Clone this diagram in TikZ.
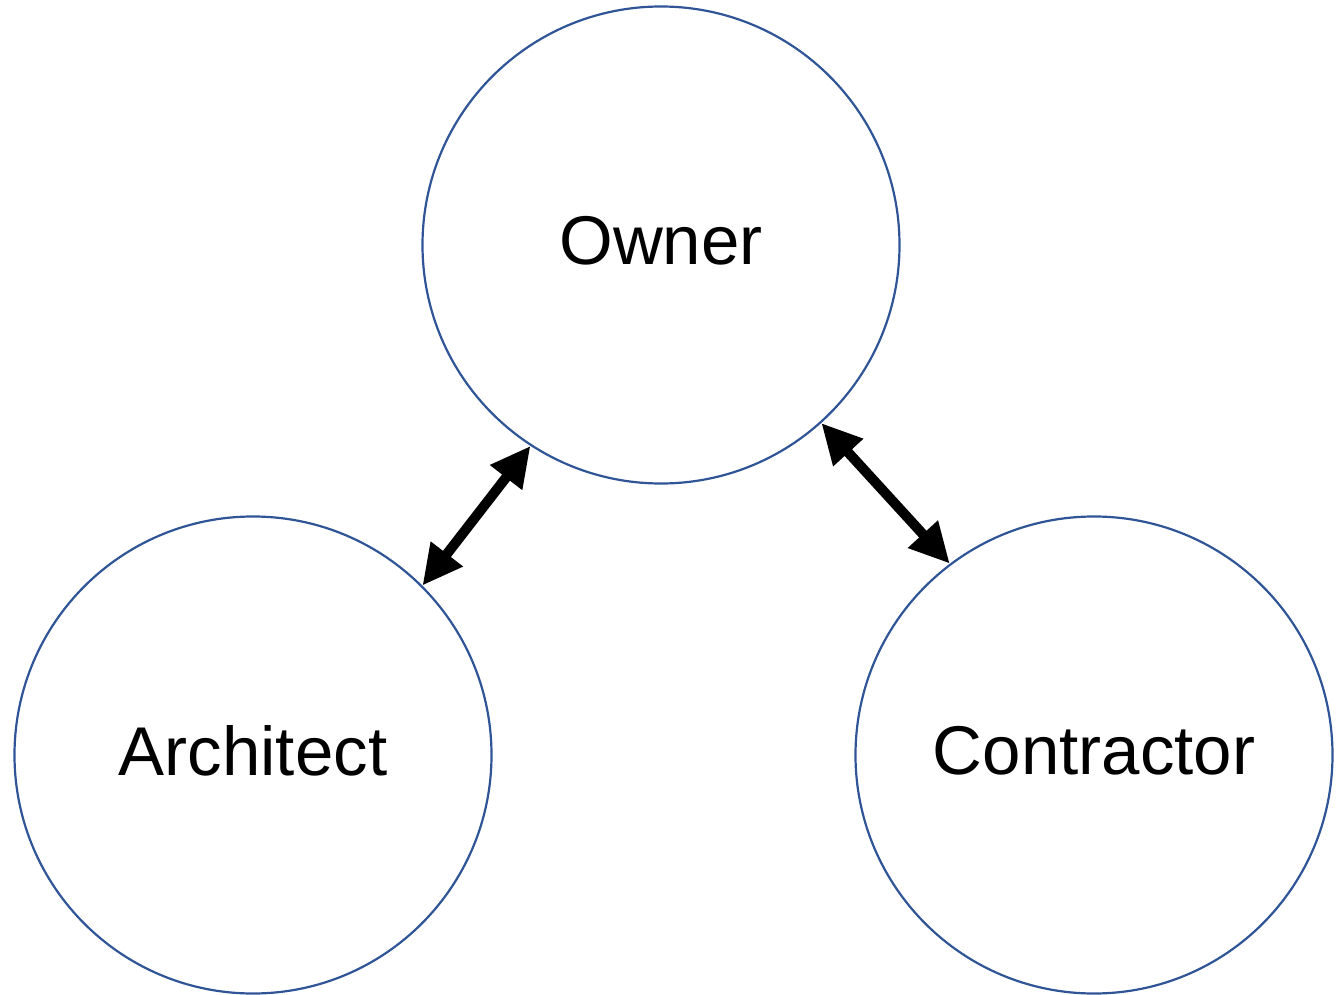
\documentclass[tikz,border=0pt]{standalone}
\usepackage{fontspec}
\setmainfont{Liberation Sans}
\usepackage{tikz}
\usetikzlibrary{arrows.meta}
\definecolor{ringblue}{HTML}{2F5597}

\begin{document}
\begin{tikzpicture}[x=1pt, y=-1pt,
    party/.style={circle, draw=ringblue, line width=2.2pt, minimum size=477pt,
      inner sep=0pt, text depth=10pt, font=\fontsize{69}{80}\selectfont},
    link/.style={line width=10pt, {Triangle[length=40pt,width=38pt]}-{Triangle[length=40pt,width=38pt]}}]
      \useasboundingbox (0, 0) rectangle (1344, 995);
      \node[party] (owner) at (661, 245) {Owner};
      \node[party] (arch) at (253, 755) {Architect};
      \node[party] (contr) at (1094, 755) {Contractor};
      \draw[link] (arch.45) -- (owner.-123);
      \draw[link] (contr.127) -- (owner.-48);
    \end{tikzpicture}
\end{document}
